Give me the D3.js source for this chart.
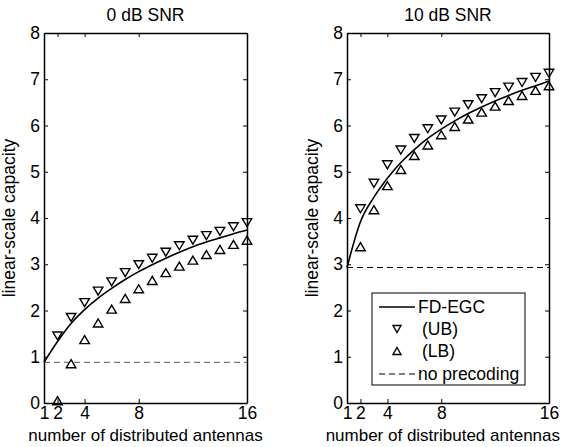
<!DOCTYPE html>
<html><head><meta charset="utf-8">
<script src="https://cdn.jsdelivr.net/npm/d3@7"></script>
<style>body{margin:0;background:#fff;} svg{display:block;} text{font-family:"Liberation Sans",Arial,sans-serif;fill:#000;}</style>
</head><body>
<svg id="chart" width="563" height="447"></svg>
<script>
// ---- data ----
const nFull = [1,2,3,4,5,6,7,8,9,10,11,12,13,14,15,16];
const nMark = [2,3,4,5,6,7,8,9,10,11,12,13,14,15,16];
const xTicks = [1,2,4,8,16];
const yTicks = [0,1,2,3,4,5,6,7,8];
const titles = ["0 dB SNR","10 dB SNR"];
const xLabel = "number of distributed antennas";
const yLabel = "linear-scale capacity";
const legendLabels = ["FD-EGC","(UB)","(LB)","no precoding"];

// 0 dB SNR
const egc0 = [0.88,1.33,1.72,2.02,2.27,2.48,2.67,2.84,2.99,3.13,3.26,3.38,3.48,3.57,3.66,3.74];
const ub0  = [1.45,1.85,2.17,2.42,2.62,2.82,2.99,3.13,3.26,3.40,3.52,3.62,3.71,3.81,3.90];
const lb0  = [0.05,0.85,1.37,1.73,2.03,2.26,2.47,2.65,2.82,2.96,3.09,3.21,3.32,3.43,3.52];
const noPre0 = 0.88;
// 10 dB SNR
const egc10 = [2.93,3.92,4.45,4.86,5.20,5.48,5.72,5.92,6.10,6.26,6.40,6.53,6.65,6.76,6.86,6.96];
const ub10  = [4.20,4.75,5.15,5.47,5.72,5.93,6.12,6.29,6.45,6.58,6.71,6.83,6.93,7.04,7.13];
const lb10  = [3.38,4.18,4.70,5.05,5.35,5.58,5.80,5.98,6.14,6.29,6.42,6.54,6.65,6.76,6.86];
const noPre10 = 2.93;

const svg = d3.select("#chart");
const FS = 17.5;

function tri(w,h,up){
  const p = d3.path();
  if(up){p.moveTo(0,-h/2);p.lineTo(w/2,h/2);p.lineTo(-w/2,h/2);}
  else {p.moveTo(0,h/2);p.lineTo(w/2,-h/2);p.lineTo(-w/2,-h/2);}
  p.closePath();return p.toString();
}

function panel(x0,x1,title,egc,ub,lb,noPre,dashColor,legend){
  const y0=403,y1=33;
  const x = d3.scaleLinear().domain([1,16]).range([x0,x1]);
  const y = d3.scaleLinear().domain([0,8]).range([y0,y1]);
  const g = svg.append("g");
  // axes
  const ax = g.append("g").attr("transform",`translate(0,${y0})`)
    .call(d3.axisBottom(x).tickValues(xTicks).tickSizeInner(-4).tickSizeOuter(0).tickPadding(4));
  const axT = g.append("g").attr("transform",`translate(0,${y1})`)
    .call(d3.axisTop(x).tickValues(xTicks).tickSizeInner(-4).tickSizeOuter(0).tickFormat(""));
  const ay = g.append("g").attr("transform",`translate(${x0},0)`)
    .call(d3.axisLeft(y).tickValues(yTicks).tickSizeInner(-4).tickSizeOuter(0).tickPadding(4));
  const ayR = g.append("g").attr("transform",`translate(${x1},0)`)
    .call(d3.axisRight(y).tickValues(yTicks).tickSizeInner(-4).tickSizeOuter(0).tickFormat(""));
  [ax,axT,ay,ayR].forEach(a=>{
    a.select(".domain").attr("stroke","#000").attr("stroke-width",1.5);
    a.selectAll(".tick line").attr("stroke","#000");
    a.selectAll("text").style("font-size",FS+"px").attr("fill","#000");
  });
  ax.selectAll(".tick text").attr("dy","0.71em");
  // title & labels
  g.append("text").attr("x",(x0+x1)/2).attr("y",21).attr("text-anchor","middle").style("font-size",FS+"px").text(title);
  const xl = g.append("text").attr("x",(x0+x1)/2).attr("y",441).attr("text-anchor","middle").style("font-size","17px").text(xLabel);
  const w = xl.node().getComputedTextLength();
  const cx = Math.min((x0+x1)/2, 560 - w/2);
  xl.attr("x",cx);
  g.append("text").attr("transform",`translate(${x0-29},${(y0+y1)/2}) rotate(-90)`).attr("text-anchor","middle").style("font-size",FS+"px").text(yLabel);
  // no precoding
  g.append("line").attr("x1",x(1)).attr("x2",x(16)).attr("y1",y(noPre)).attr("y2",y(noPre))
    .attr("stroke",dashColor).attr("stroke-width",1).attr("stroke-dasharray","6,4");
  // EGC curve
  g.append("path").datum(egc).attr("fill","none").attr("stroke","#000").attr("stroke-width",1.6)
    .attr("d",d3.line().x((d,i)=>x(nFull[i])).y(d=>y(d)).curve(d3.curveMonotoneX));
  // markers
  g.append("g").selectAll("path").data(ub).join("path")
    .attr("transform",(d,i)=>`translate(${x(nMark[i])},${y(d)})`)
    .attr("d",tri(9.5,8,false)).attr("fill","none").attr("stroke","#000").attr("stroke-width",1.4);
  g.append("g").selectAll("path").data(lb).join("path")
    .attr("transform",(d,i)=>`translate(${x(nMark[i])},${y(d)})`)
    .attr("d",tri(9.5,8,true)).attr("fill","none").attr("stroke","#000").attr("stroke-width",1.4);
  if(legend){
    const L = g.append("g");
    L.append("rect").attr("x",372).attr("y",293).attr("width",153).attr("height",92)
      .attr("fill","#fff").attr("stroke","#000").attr("stroke-width",1);
    const rows=[307,329,351,374];
    L.append("line").attr("x1",379).attr("x2",415).attr("y1",rows[0]).attr("y2",rows[0]).attr("stroke","#000").attr("stroke-width",1.6);
    L.append("path").attr("transform",`translate(397,${rows[1]})`).attr("d",tri(8,7,false)).attr("fill","none").attr("stroke","#000").attr("stroke-width",1.4);
    L.append("path").attr("transform",`translate(397,${rows[2]})`).attr("d",tri(8,7,true)).attr("fill","none").attr("stroke","#000").attr("stroke-width",1.4);
    L.append("line").attr("x1",379).attr("x2",416).attr("y1",rows[3]).attr("y2",rows[3]).attr("stroke","#000").attr("stroke-width",1).attr("stroke-dasharray","6,4");
    const tx=[418,422,422,418];
    legendLabels.forEach((t,i)=>L.append("text").attr("x",tx[i]).attr("y",rows[i]).attr("dy","0.35em").style("font-size",FS+"px").text(t));
  }
}
panel(44,247,titles[0],egc0,ub0,lb0,noPre0,"#555",false);
panel(347,549,titles[1],egc10,ub10,lb10,noPre10,"#000",true);
</script>
</body></html>
